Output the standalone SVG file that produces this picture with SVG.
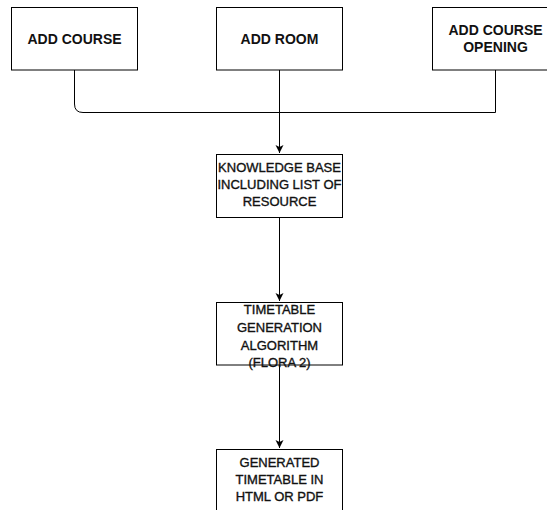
<svg xmlns="http://www.w3.org/2000/svg" width="547" height="510" viewBox="0 0 547 510">
  <style>
    .box { fill: #ffffff; stroke: #000000; stroke-width: 1; }
    .edge { fill: none; stroke: #000000; stroke-width: 1; }
    .head { font-family: "Liberation Sans", Arial, sans-serif; font-size: 14px; font-weight: bold; fill: #111111; text-anchor: middle; }
    .body { font-family: "Liberation Sans", Arial, sans-serif; font-size: 13px; fill: #111111; stroke: #111111; stroke-width: 0.35; text-anchor: middle; }
  </style>
  <defs>
    <marker id="arrow" markerWidth="10" markerHeight="10" refX="8" refY="5" orient="auto" markerUnits="userSpaceOnUse">
      <path d="M0,1 L8,5 L0,9 L2,5 Z" fill="#000000"/>
    </marker>
  </defs>
  <rect x="0" y="0" width="547" height="510" fill="#ffffff"/>

  <g id="connectors">
    <path class="edge" d="M74.5,70 V104 Q74.5,112.5 83,112.5 H495.5 V70"/>
    <path class="edge" d="M279.5,70 V153" marker-end="url(#arrow)"/>
    <path class="edge" d="M279.5,218 V301" marker-end="url(#arrow)"/>
    <path class="edge" d="M279.5,365 V448" marker-end="url(#arrow)"/>
  </g>

  <g id="add-course">
    <rect class="box" x="11.5" y="7.5" width="126" height="62.5"/>
    <text class="head" x="74.5" y="44">ADD COURSE</text>
  </g>

  <g id="add-room">
    <rect class="box" x="216.5" y="7.5" width="126" height="62.5"/>
    <text class="head" x="279.5" y="44">ADD ROOM</text>
  </g>

  <g id="add-course-opening">
    <rect class="box" x="432.5" y="7.5" width="126" height="62.5"/>
    <text class="head" x="495.5" y="35">ADD COURSE</text>
    <text class="head" x="495.5" y="52">OPENING</text>
  </g>

  <g id="knowledge-base">
    <rect class="box" x="216.5" y="154.5" width="126" height="63"/>
    <text class="body" x="279.5" y="172">KNOWLEDGE BASE</text>
    <text class="body" x="279.5" y="189">INCLUDING LIST OF</text>
    <text class="body" x="279.5" y="206">RESOURCE</text>
  </g>

  <g id="timetable-algorithm">
    <rect class="box" x="216.5" y="302.5" width="126" height="62.5"/>
    <text class="body" x="279.5" y="314">TIMETABLE</text>
    <text class="body" x="279.5" y="332">GENERATION</text>
    <text class="body" x="279.5" y="350">ALGORITHM</text>
    <text class="body" x="279.5" y="367">(FLORA 2)</text>
  </g>

  <g id="generated-timetable">
    <rect class="box" x="216.5" y="449.5" width="126" height="64"/>
    <text class="body" x="279.5" y="467">GENERATED</text>
    <text class="body" x="279.5" y="484">TIMETABLE IN</text>
    <text class="body" x="279.5" y="501">HTML OR PDF</text>
  </g>
</svg>
